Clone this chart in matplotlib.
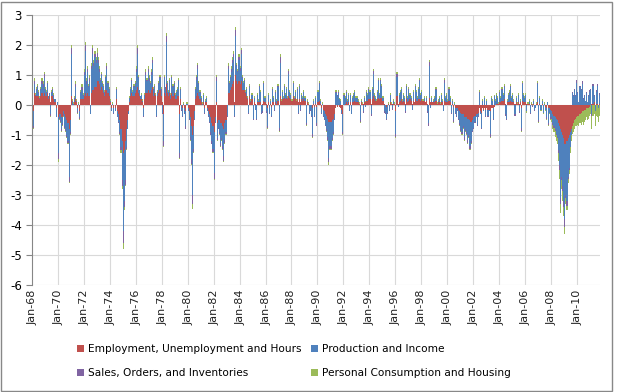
import numpy as np
import matplotlib
matplotlib.use("Agg")
import matplotlib.pyplot as plt
import matplotlib.transforms as mtransforms
from matplotlib.patches import Rectangle

# monthly contributions, Jan 1968 - Sep 2011 (one row per year)
employment = [
    0.3, -0.2, 0.4, 0.3, 0.3, 0.3, 0.3, 0.2, 0.3, 0.4, 0.3, 0.4,  # 1968
    0.3, 0.3, 0.4, 0.2, 0.3, 0.1, 0.3, 0.3, 0.2, 0.1, -0.1, 0.0,
    -0.4, -0.3, -0.3, -0.4, -0.4, -0.2, -0.3, -0.4, -0.5, -0.6, -0.8, -0.5,  # 1970
    0.3, 0.0, 0.0, 0.1, 0.2, 0.1, -0.1, 0.0, -0.2, 0.2, 0.2, 0.2,
    0.3, 0.4, 0.3, 0.4, 0.3, 0.3, 0.0, 0.4, 0.5, 0.5, 0.6, 0.6,
    0.8, 0.8, 0.7, 0.5, 0.6, 0.5, 0.4, 0.3, 0.5, 0.5, 0.4, 0.3,
    0.1, -0.1, 0.0, -0.1, 0.0, -0.1, 0.2, -0.2, -0.3, -0.5, -0.8, -1.2,
    -1.6, -1.5, -1.2, -0.8, -0.5, -0.2, 0.1, 0.3, 0.4, 0.3, 0.3, 0.4,  # 1975
    0.5, 0.6, 0.4, 0.3, 0.2, 0.2, 0.1, -0.1, 0.2, 0.4, 0.4, 0.5,
    0.4, 0.4, 0.5, 0.6, 0.3, 0.4, 0.3, 0.0, 0.3, 0.4, 0.5, 0.3,
    0.1, -0.3, 0.4, 0.3, 0.7, 0.4, 0.3, 0.4, 0.2, 0.4, 0.3, 0.4,
    0.2, 0.2, 0.3, 0.3, -0.3, 0.2, 0.0, -0.1, 0.0, -0.1, -0.2, 0.0,
    -0.1, -0.2, -0.4, -0.7, -1.0, -0.7, -0.2, 0.2, 0.3, 0.4, 0.3, 0.2,  # 1980
    0.1, 0.0, 0.1, -0.1, 0.1, 0.1, -0.1, -0.2, -0.3, -0.4, -0.6, -0.7,
    -0.9, -0.4, 0.1, -0.6, -0.5, -0.5, -0.6, -0.6, -0.7, -0.8, -0.6, -0.5,
    0.0, 0.4, 0.4, 0.5, 0.6, 0.7, 0.8, 0.1, 1.0, 0.8, 0.7, 0.8,
    0.7, 0.8, 0.5, 0.5, 0.5, 0.4, 0.3, 0.2, 0.0, 0.3, 0.1, 0.2,
    0.0, 0.1, 0.05, 0.0, 0.1, 0.1, 0.1, 0.1, 0.0, 0.05, 0.15, 0.1,  # 1985
    0.05, -0.1, 0.1, 0.0, 0.05, -0.05, 0.1, 0.1, 0.0, 0.1, 0.05, 0.15,
    0.0, 0.3, 0.15, 0.2, 0.2, 0.25, 0.2, 0.25, 0.2, 0.3, 0.25, 0.2,
    0.15, 0.3, 0.2, 0.25, 0.15, 0.2, 0.1, 0.2, 0.1, 0.2, 0.15, 0.2,
    0.15, 0.0, 0.1, 0.05, 0.0, 0.0, 0.0, -0.1, 0.05, -0.05, 0.05, -0.05,
    0.1, 0.15, 0.05, -0.1, 0.0, -0.15, -0.2, -0.3, -0.35, -0.45, -0.55, -0.55,  # 1990
    -0.55, -0.5, -0.45, -0.3, -0.1, 0.0, -0.05, 0.0, -0.05, -0.1, -0.15, -0.3,
    0.0, 0.05, 0.1, 0.05, 0.1, 0.0, 0.1, 0.0, 0.1, 0.1, 0.15, 0.1,
    0.1, 0.1, 0.05, 0.0, 0.1, 0.05, 0.05, 0.1, 0.1, 0.15, 0.15, 0.2,
    0.2, 0.05, 0.2, 0.3, 0.2, 0.15, 0.15, 0.2, 0.25, 0.2, 0.25, 0.25,
    0.15, 0.05, 0.0, -0.05, 0.0, 0.05, 0.0, 0.1, 0.05, 0.05, 0.05, 0.05,  # 1995
    -0.2, 0.3, 0.05, 0.1, 0.15, 0.2, 0.1, 0.15, 0.1, 0.05, 0.2, 0.1,
    0.15, 0.2, 0.15, 0.05, 0.15, 0.1, 0.2, 0.15, 0.15, 0.2, 0.2, 0.15,
    0.2, 0.15, 0.15, 0.1, 0.15, 0.05, 0.0, 0.25, 0.1, 0.1, 0.1, 0.1,
    0.1, 0.15, 0.05, 0.1, 0.1, 0.05, 0.1, 0.1, 0.0, 0.15, 0.1, 0.1,
    0.1, 0.15, 0.1, 0.0, 0.05, -0.05, 0.0, -0.1, -0.1, -0.1, -0.15, -0.2,  # 2000
    -0.25, -0.3, -0.3, -0.4, -0.4, -0.4, -0.45, -0.45, -0.5, -0.55, -0.55, -0.5,
    -0.4, -0.35, -0.3, -0.3, -0.25, -0.1, -0.2, -0.25, -0.1, -0.15, -0.1, -0.15,
    -0.1, -0.15, -0.15, -0.2, -0.1, -0.1, -0.1, -0.05, 0.0, 0.05, 0.05, 0.05,
    0.1, 0.1, 0.15, 0.15, 0.2, 0.05, 0.0, 0.1, 0.1, 0.1, 0.15, 0.1,
    0.1, 0.1, 0.05, 0.1, 0.05, 0.1, 0.05, 0.1, -0.1, 0.15, 0.1, 0.1,  # 2005
    0.1, 0.05, 0.05, 0.05, 0.0, 0.05, 0.0, 0.05, 0.0, 0.0, 0.05, 0.1,
    0.0, 0.05, 0.0, 0.05, 0.0, 0.0, -0.05, -0.1, 0.0, -0.1, -0.1, -0.15,
    -0.2, -0.3, -0.35, -0.4, -0.45, -0.5, -0.6, -0.7, -0.8, -0.9, -1.0, -1.1,
    -1.3, -1.3, -1.2, -1.1, -1.0, -0.9, -0.8, -0.7, -0.6, -0.5, -0.45, -0.4,
    -0.35, -0.35, -0.3, -0.25, -0.2, -0.2, -0.15, -0.15, -0.1, -0.1, -0.1, -0.05,  # 2010
    0.0, 0.05, 0.05, 0.1, 0.0, 0.05, 0.05, 0.0, 0.05,
]

production = [
    0.1, -0.5, 0.3, 0.0, 0.2, 0.3, 0.1, 0.0, 0.2, 0.3, 0.3, 0.5,  # 1968
    0.2, 0.1, 0.3, 0.1, 0.1, -0.3, 0.1, 0.2, 0.1, 0.1, -0.3, 0.1,
    -1.2, -0.1, -0.2, -0.4, -0.2, -0.1, -0.4, -0.4, -0.5, -0.6, -1.6, -0.4,  # 1970
    1.4, 0.1, 0.05, 0.1, 0.4, 0.05, -0.1, 0.05, -0.2, 0.2, 0.3, 0.1,
    0.7, 1.4, 0.4, 0.7, 0.3, 0.5, -0.3, 0.8, 1.2, 0.8, 1.0, 0.8,
    0.8, 0.6, 0.4, 0.3, 0.4, 0.2, 0.2, 0.1, 0.4, 0.7, 0.3, 0.2,
    0.05, -0.1, 0.05, -0.15, 0.0, -0.1, 0.3, -0.15, -0.25, -0.4, -0.6, -1.3,
    -2.6, -1.7, -1.3, -0.6, -0.3, -0.1, 0.15, 0.25, 0.4, 0.15, 0.3, 0.3,  # 1975
    0.6, 1.1, 0.5, 0.2, 0.1, 0.15, 0.05, -0.25, 0.15, 0.6, 0.4, 0.6,
    0.4, 0.3, 0.5, 0.8, 0.2, 0.2, 0.05, -0.35, 0.1, 0.3, 0.4, 0.2,
    -0.25, -0.9, 0.5, 0.25, 1.4, 0.3, 0.15, 0.4, 0.15, 0.5, 0.3, 0.3,
    0.15, 0.25, 0.25, 0.5, -1.3, 0.3, -0.15, -0.25, 0.05, -0.15, -0.5, 0.05,
    -0.1, -0.25, -0.65, -1.1, -2.0, -0.75, -0.25, 0.3, 0.55, 0.8, 0.4, 0.2,  # 1980
    0.15, 0.05, 0.25, -0.15, 0.05, 0.15, -0.1, -0.15, -0.25, -0.5, -0.6, -0.75,
    -1.35, -0.15, 0.7, -0.5, -0.25, -0.4, -0.65, -0.5, -0.65, -0.9, -0.55, -0.4,
    -0.35, 0.8, 0.3, 0.4, 0.5, 0.7, 0.8, -0.35, 1.3, 0.5, 0.4, 0.7,
    0.45, 0.9, 0.4, 0.25, 0.3, 0.05, 0.25, 0.05, -0.25, 0.3, 0.05, 0.15,
    -0.45, 0.15, -0.15, -0.45, 0.25, 0.05, 0.5, 0.35, -0.25, -0.2, 0.55, 0.15,  # 1985
    -0.2, -0.6, 0.25, -0.25, 0.1, -0.3, 0.4, 0.15, -0.15, 0.3, 0.1, 0.45,
    -0.75, 1.1, 0.0, 0.25, 0.05, 0.35, 0.15, 0.3, 0.05, 0.75, 0.2, 0.15,
    0.0, 0.4, 0.05, 0.2, 0.0, 0.3, -0.25, 0.4, -0.15, 0.15, 0.1, 0.25,
    0.1, -0.6, 0.05, 0.0, -0.25, -0.15, -0.35, -0.85, 0.1, -0.3, 0.2, -0.55,
    0.35, 0.55, 0.1, -0.15, 0.05, -0.2, -0.25, -0.35, -0.45, -0.6, -1.2, -0.8,  # 1990
    -0.8, -0.6, -0.45, -0.15, 0.4, 0.4, 0.3, 0.4, 0.2, 0.15, -0.1, -0.6,
    0.3, 0.2, 0.3, 0.1, 0.25, -0.2, 0.25, -0.3, 0.15, 0.25, 0.3, 0.15,
    0.15, 0.05, 0.0, -0.5, 0.05, 0.0, -0.2, 0.15, -0.05, 0.25, 0.2, 0.3,
    0.25, -0.3, 0.3, 0.75, 0.15, 0.1, 0.0, 0.25, 0.55, 0.15, 0.55, 0.35,
    0.1, -0.2, -0.25, -0.4, -0.25, 0.0, -0.2, 0.25, 0.0, -0.1, 0.1, 0.0,  # 1995
    -0.75, 0.65, -0.05, 0.25, 0.3, 0.35, 0.05, 0.2, 0.15, -0.2, 0.4, 0.15,
    0.35, 0.15, 0.1, -0.15, 0.3, 0.0, 0.4, 0.3, 0.1, 0.35, 0.6, 0.2,
    0.25, 0.0, 0.1, 0.0, 0.1, -0.2, -0.6, 1.05, -0.1, 0.15, 0.0, 0.05,
    0.15, 0.35, 0.0, 0.05, 0.15, 0.0, 0.25, 0.05, -0.2, 0.6, 0.15, 0.25,
    0.05, 0.35, 0.15, -0.25, 0.1, -0.45, 0.05, -0.15, -0.25, -0.05, -0.3, -0.4,  # 2000
    -0.55, -0.6, -0.4, -0.65, -0.4, -0.5, -0.7, -0.55, -0.85, -0.8, -0.65, -0.35,
    -0.35, -0.2, -0.1, -0.35, -0.1, 0.4, -0.1, -0.5, 0.15, -0.05, 0.25, -0.2,
    0.15, -0.2, -0.05, -0.75, 0.25, 0.15, -0.35, 0.3, 0.15, 0.3, 0.2, 0.0,
    0.3, 0.15, 0.35, 0.2, 0.4, -0.3, -0.45, 0.05, 0.25, 0.3, 0.45, 0.15,
    0.25, 0.05, -0.3, 0.15, 0.0, 0.25, -0.2, 0.05, -0.65, 0.55, 0.25, 0.15,  # 2005
    0.25, -0.2, 0.0, 0.1, -0.25, 0.0, 0.0, 0.1, -0.15, -0.1, 0.0, 0.6,
    -0.5, 0.2, -0.15, 0.1, -0.25, 0.05, -0.1, -0.3, 0.1, -0.5, -0.15, -0.25,
    -0.2, -0.3, -0.35, -0.4, -0.5, -0.55, -0.9, -1.3, -2.3, -1.5, -1.7, -2.1,
    -2.5, -1.7, -2.0, -1.3, -1.1, -0.5, -0.2, 0.4, 0.3, 0.5, 0.3, 0.75,
    0.4, 0.1, 0.6, 0.5, 0.7, 0.2, 0.3, 0.15, 0.4, 0.1, 0.3, 0.45,  # 2010
    0.5, -0.3, 0.6, 0.2, -0.2, 0.4, 0.6, -0.1, 0.3,
]

sales = [
    0.05, -0.05, 0.1, 0.05, 0.05, 0.05, 0.05, 0.05, 0.05, 0.1, 0.1, 0.15,  # 1968
    0.05, 0.05, 0.05, 0.0, 0.0, -0.05, 0.05, 0.05, 0.05, 0.0, 0.0, 0.0,
    -0.2, -0.05, -0.05, -0.05, -0.05, -0.05, -0.05, -0.05, -0.05, -0.05, -0.15, -0.05,  # 1970
    0.2, 0.05, 0.0, 0.05, 0.1, 0.0, -0.05, 0.0, -0.05, 0.05, 0.1, 0.05,
    0.1, 0.2, 0.1, 0.1, 0.05, 0.1, 0.0, 0.1, 0.2, 0.1, 0.1, 0.1,
    0.15, 0.1, 0.1, 0.05, 0.05, 0.05, 0.05, 0.05, 0.05, 0.1, 0.05, 0.05,
    0.0, 0.0, 0.0, -0.05, 0.0, 0.0, 0.05, -0.05, -0.05, -0.05, -0.1, -0.2,
    -0.4, -0.2, -0.15, -0.05, 0.0, 0.0, 0.0, 0.0, 0.05, 0.0, 0.05, 0.05,  # 1975
    0.1, 0.2, 0.05, 0.0, 0.0, 0.0, 0.0, -0.05, 0.0, 0.1, 0.05, 0.1,
    0.1, 0.05, 0.1, 0.1, 0.05, 0.05, 0.0, -0.05, 0.05, 0.05, 0.05, 0.05,
    -0.05, -0.15, 0.05, 0.05, 0.2, 0.05, 0.0, 0.05, 0.0, 0.05, 0.05, 0.05,
    0.0, 0.0, 0.0, 0.05, -0.15, 0.05, -0.05, -0.05, 0.0, -0.05, -0.1, 0.0,
    0.0, -0.05, -0.1, -0.15, -0.3, -0.1, -0.05, 0.05, 0.1, 0.15, 0.05, 0.05,  # 1980
    0.0, 0.0, 0.0, -0.05, 0.0, 0.0, 0.0, -0.05, -0.05, -0.1, -0.1, -0.1,
    -0.2, -0.05, 0.15, -0.05, -0.05, -0.05, -0.1, -0.05, -0.1, -0.15, -0.1, -0.05,
    -0.05, 0.1, 0.05, 0.05, 0.1, 0.1, 0.1, -0.05, 0.2, 0.05, 0.05, 0.1,
    0.1, 0.15, 0.05, 0.0, 0.05, 0.0, 0.0, 0.0, -0.05, 0.05, 0.0, 0.0,
    -0.05, 0.0, 0.0, -0.05, 0.0, 0.0, 0.05, 0.0, -0.05, -0.05, 0.05, 0.0,  # 1985
    -0.05, -0.05, 0.0, -0.05, 0.0, -0.05, 0.05, 0.0, -0.05, 0.05, 0.0, 0.05,
    -0.1, 0.2, 0.0, 0.0, 0.0, 0.05, 0.0, 0.0, 0.0, 0.1, 0.0, 0.0,
    0.0, 0.05, 0.0, 0.0, 0.0, 0.05, -0.05, 0.05, -0.05, 0.0, 0.0, 0.0,
    0.0, -0.05, 0.0, 0.0, -0.05, -0.05, -0.05, -0.1, 0.0, -0.05, 0.0, -0.1,
    0.0, 0.05, 0.0, -0.05, 0.0, -0.05, -0.05, -0.05, -0.05, -0.1, -0.15, -0.1,  # 1990
    -0.1, -0.05, -0.05, -0.05, 0.05, 0.05, 0.05, 0.05, 0.0, 0.0, -0.05, -0.05,
    0.05, 0.0, 0.05, 0.0, 0.0, 0.0, 0.0, 0.0, 0.0, 0.0, 0.0, 0.0,
    0.0, 0.0, 0.0, -0.05, 0.0, 0.0, -0.05, 0.0, 0.0, 0.05, 0.0, 0.05,
    0.0, -0.05, 0.05, 0.1, 0.0, 0.0, 0.0, 0.0, 0.05, 0.0, 0.05, 0.05,
    0.0, -0.05, -0.05, -0.05, -0.05, 0.0, 0.0, 0.0, 0.0, -0.05, 0.0, 0.0,  # 1995
    -0.1, 0.1, 0.0, 0.0, 0.0, 0.0, 0.0, 0.0, 0.0, -0.05, 0.05, 0.0,
    0.05, 0.0, 0.0, 0.0, 0.0, 0.0, 0.05, 0.0, 0.0, 0.0, 0.05, 0.0,
    0.0, 0.0, 0.0, 0.0, 0.0, -0.05, -0.1, 0.15, 0.0, 0.0, 0.0, 0.0,
    0.0, 0.05, 0.0, 0.0, 0.0, 0.0, 0.0, 0.0, 0.0, 0.1, 0.0, 0.0,
    0.0, 0.05, 0.0, -0.05, 0.0, -0.05, 0.0, -0.05, -0.05, -0.05, -0.05, -0.05,  # 2000
    -0.05, -0.05, -0.05, -0.1, -0.05, -0.05, -0.1, -0.05, -0.1, -0.1, -0.05, -0.05,
    -0.05, -0.05, 0.0, -0.05, -0.05, 0.05, 0.0, -0.05, 0.0, 0.0, 0.0, -0.05,
    0.0, -0.05, 0.0, -0.1, 0.0, 0.0, -0.05, 0.0, 0.0, 0.0, 0.0, 0.0,
    0.05, 0.0, 0.05, 0.0, 0.05, -0.05, -0.05, 0.0, 0.0, 0.05, 0.05, 0.0,
    0.0, 0.0, -0.05, 0.0, 0.0, 0.0, -0.05, 0.0, -0.1, 0.05, 0.0, 0.0,  # 2005
    0.0, 0.0, 0.0, 0.0, -0.05, 0.0, -0.05, 0.0, -0.05, 0.0, 0.0, 0.05,
    -0.05, 0.0, 0.0, 0.0, 0.0, 0.0, 0.0, -0.05, 0.0, -0.05, 0.0, -0.05,
    -0.05, -0.05, -0.05, -0.05, -0.05, -0.05, -0.1, -0.15, -0.2, -0.1, -0.15, -0.2,
    -0.25, -0.1, -0.15, -0.05, -0.05, 0.0, 0.0, 0.05, 0.05, 0.05, 0.05, 0.1,
    0.05, 0.0, 0.05, 0.05, 0.1, 0.05, 0.05, 0.0, 0.05, 0.0, 0.05, 0.05,  # 2010
    0.05, -0.05, 0.05, 0.05, 0.0, 0.05, 0.05, 0.0, 0.05,
]

consumption = [
    0.05, -0.05, 0.1, 0.05, 0.05, 0.05, 0.05, 0.05, 0.05, 0.1, 0.1, 0.05,  # 1968
    0.05, 0.05, 0.05, 0.0, 0.0, -0.05, 0.05, 0.05, 0.05, 0.0, 0.0, 0.0,
    -0.1, -0.05, -0.05, -0.05, -0.05, -0.05, -0.05, -0.05, -0.05, -0.05, -0.05, -0.05,  # 1970
    0.1, 0.05, 0.05, 0.05, 0.1, 0.05, -0.05, 0.05, -0.05, 0.05, 0.1, 0.05,
    0.1, 0.1, 0.1, 0.1, 0.05, 0.1, 0.0, 0.1, 0.1, 0.1, 0.1, 0.1,
    0.15, 0.1, 0.1, 0.05, 0.05, 0.05, 0.05, 0.05, 0.05, 0.1, 0.05, 0.05,
    0.05, 0.0, 0.05, 0.0, 0.0, 0.0, 0.05, 0.0, 0.0, -0.05, -0.1, -0.1,
    -0.2, -0.1, -0.05, -0.05, 0.0, 0.0, 0.05, 0.05, 0.05, 0.05, 0.05, 0.05,  # 1975
    0.1, 0.1, 0.05, 0.0, 0.0, 0.05, 0.05, 0.0, 0.05, 0.1, 0.05, 0.1,
    0.1, 0.05, 0.1, 0.1, 0.05, 0.05, 0.05, 0.0, 0.05, 0.05, 0.05, 0.05,
    0.0, -0.05, 0.05, 0.0, 0.1, 0.05, 0.05, 0.05, 0.05, 0.05, 0.05, 0.05,
    0.05, 0.05, 0.05, 0.05, -0.05, 0.05, 0.0, 0.0, 0.05, 0.0, 0.0, 0.05,
    0.0, 0.0, -0.05, -0.05, -0.15, -0.05, 0.0, 0.05, 0.05, 0.05, 0.05, 0.05,  # 1980
    0.05, 0.05, 0.05, 0.0, 0.05, 0.05, 0.0, 0.0, 0.0, 0.0, 0.0, -0.05,
    -0.05, 0.0, 0.05, -0.05, 0.0, -0.05, -0.05, -0.05, -0.05, -0.05, -0.05, -0.05,
    0.0, 0.1, 0.05, 0.05, 0.1, 0.1, 0.1, 0.0, 0.1, 0.05, 0.05, 0.1,
    0.05, 0.05, 0.05, 0.05, 0.05, 0.05, 0.05, 0.05, 0.0, 0.05, 0.05, 0.05,
    0.0, 0.05, 0.0, 0.0, 0.05, 0.05, 0.05, 0.05, 0.0, 0.0, 0.05, 0.05,  # 1985
    0.0, -0.05, 0.05, 0.0, 0.05, 0.0, 0.05, 0.05, 0.0, 0.05, 0.05, 0.05,
    -0.05, 0.1, 0.05, 0.05, 0.05, 0.05, 0.05, 0.05, 0.05, 0.05, 0.05, 0.05,
    0.05, 0.05, 0.05, 0.05, 0.05, 0.05, 0.0, 0.05, 0.0, 0.05, 0.05, 0.05,
    0.05, -0.05, 0.05, 0.05, 0.0, 0.0, 0.0, -0.05, 0.05, 0.0, 0.05, 0.0,
    0.05, 0.05, 0.05, 0.0, 0.05, 0.0, 0.0, 0.0, -0.05, -0.05, -0.1, -0.05,  # 1990
    -0.05, -0.05, -0.05, 0.0, 0.05, 0.05, 0.0, 0.05, 0.05, 0.05, 0.0, -0.05,
    0.05, 0.05, 0.05, 0.05, 0.05, 0.0, 0.05, 0.0, 0.05, 0.05, 0.05, 0.05,
    0.05, 0.05, 0.05, -0.05, 0.05, 0.05, 0.0, 0.05, 0.05, 0.05, 0.05, 0.05,
    0.05, 0.0, 0.05, 0.05, 0.05, 0.05, 0.05, 0.05, 0.05, 0.05, 0.05, 0.05,
    0.05, 0.0, 0.0, 0.0, 0.0, 0.05, 0.0, 0.05, 0.05, 0.0, 0.05, 0.05,  # 1995
    -0.05, 0.05, 0.0, 0.05, 0.05, 0.05, 0.05, 0.05, 0.05, 0.0, 0.05, 0.05,
    0.05, 0.05, 0.05, 0.0, 0.05, 0.0, 0.05, 0.05, 0.05, 0.05, 0.05, 0.05,
    0.05, 0.05, 0.05, 0.0, 0.05, 0.0, 0.0, 0.05, 0.0, 0.05, 0.0, 0.05,
    0.05, 0.05, 0.05, 0.05, 0.05, 0.05, 0.05, 0.05, 0.0, 0.05, 0.05, 0.05,
    0.05, 0.05, 0.05, 0.0, 0.05, -0.05, 0.05, 0.0, 0.0, 0.0, 0.0, -0.05,  # 2000
    -0.05, -0.05, -0.05, -0.05, -0.05, -0.05, -0.05, -0.05, -0.05, -0.05, -0.05, 0.0,
    0.0, 0.0, 0.0, 0.0, 0.0, 0.05, 0.0, 0.0, 0.05, 0.0, 0.05, 0.0,
    0.05, 0.0, 0.0, -0.05, 0.05, 0.05, 0.0, 0.05, 0.05, 0.05, 0.05, 0.05,
    0.05, 0.05, 0.05, 0.05, 0.05, 0.0, 0.0, 0.05, 0.05, 0.05, 0.05, 0.05,
    0.05, 0.05, 0.0, 0.05, 0.05, 0.05, 0.0, 0.05, -0.05, 0.05, 0.05, 0.05,  # 2005
    0.05, -0.05, 0.05, 0.05, 0.0, 0.05, 0.05, 0.05, 0.0, 0.0, 0.05, 0.05,
    -0.05, 0.05, -0.05, 0.05, -0.05, 0.05, -0.05, -0.05, 0.0, -0.05, -0.05, -0.05,
    -0.1, -0.15, -0.15, -0.2, -0.2, -0.2, -0.25, -0.3, -0.3, -0.3, -0.35, -0.3,
    -0.25, -0.2, -0.15, -0.15, -0.15, -0.2, -0.2, -0.25, -0.3, -0.3, -0.25, -0.3,
    -0.3, -0.35, -0.3, -0.4, -0.35, -0.45, -0.4, -0.35, -0.3, -0.4, -0.35, -0.3,  # 2010
    -0.3, -0.45, -0.35, -0.3, -0.5, -0.35, -0.4, -0.45, -0.35,
]

series_names = ["Employment, Unemployment and Hours", "Production and Income",
                "Sales, Orders, and Inventories", "Personal Consumption and Housing"]
colors = ["#C0504D", "#4F81BD", "#8064A2", "#9BBB59"]
tick_labels = ["Jan-68", "Jan-70", "Jan-72", "Jan-74", "Jan-76", "Jan-78", "Jan-80",
               "Jan-82", "Jan-84", "Jan-86", "Jan-88", "Jan-90", "Jan-92", "Jan-94",
               "Jan-96", "Jan-98", "Jan-00", "Jan-02", "Jan-04", "Jan-06", "Jan-08",
               "Jan-10"]

data = [employment, production, sales, consumption]
n = len(employment)
for s in data:
    assert len(s) == n, len(s)

fig = plt.figure(figsize=(6.3, 3.92), dpi=100)
ax = fig.add_axes([31.7 / 630, 1 - 285 / 392, (600 - 31.7) / 630, 270 / 392])

x = np.arange(n)
pos_bottom = np.zeros(n)
neg_bottom = np.zeros(n)
handles = []
for vals, col, name in zip(data, colors, series_names):
    v = np.array(vals, dtype=float)
    pos = np.where(v > 0, v, 0)
    neg = np.where(v < 0, v, 0)
    h = ax.bar(x, pos, bottom=pos_bottom, width=1.0, color=col, linewidth=0, label=name, zorder=2)
    ax.bar(x, neg, bottom=neg_bottom, width=1.0, color=col, linewidth=0, zorder=2)
    pos_bottom += pos
    neg_bottom += neg
    handles.append(h)

ax.set_xlim(-0.5, n - 0.5)
ax.set_ylim(-6, 3)
ax.set_yticks(range(-6, 4))
ax.set_yticklabels([str(t) for t in range(-6, 4)])

# category gridlines every 24 months; labels written vertically under each block
ax.set_xticks(np.arange(1, len(tick_labels)) * 24 - 0.5)
ax.tick_params(axis="x", length=0, labelbottom=False)
trans = mtransforms.blended_transform_factory(ax.transData, ax.transAxes)
for i, lab in enumerate(tick_labels):
    ax.text(i * 24, -0.018, lab, transform=trans, rotation=90, rotation_mode="default",
            ha="center", va="top", fontsize=8, color="#222222")

ax.tick_params(axis="y", length=4, color="#868686", labelsize=8.5, pad=3)

ax.grid(axis="both", color="#d9d9d9", linewidth=0.8, zorder=0)
ax.set_axisbelow(True)
for side in ["top", "right", "bottom"]:
    ax.spines[side].set_visible(False)
ax.spines["left"].set_color("#868686")

leg_kw = dict(loc="upper left", frameon=False, fontsize=7.6, handlelength=0.7,
              handleheight=0.7, handletextpad=0.35, labelspacing=1.35,
              borderpad=0, borderaxespad=0)
fig.legend([handles[0], handles[2]], [series_names[0], series_names[2]],
           bbox_to_anchor=(76.5 / 630, 1 - 344 / 392), **leg_kw)
fig.legend([handles[1], handles[3]], [series_names[1], series_names[3]],
           bbox_to_anchor=(310.5 / 630, 1 - 344 / 392), **leg_kw)

fig.patches.append(Rectangle((1 / 630, 1.5 / 392), 610.5 / 630, 389 / 392,
                             transform=fig.transFigure, fill=False,
                             edgecolor="#888888", linewidth=1))

fig.savefig("out.png", dpi=100)
